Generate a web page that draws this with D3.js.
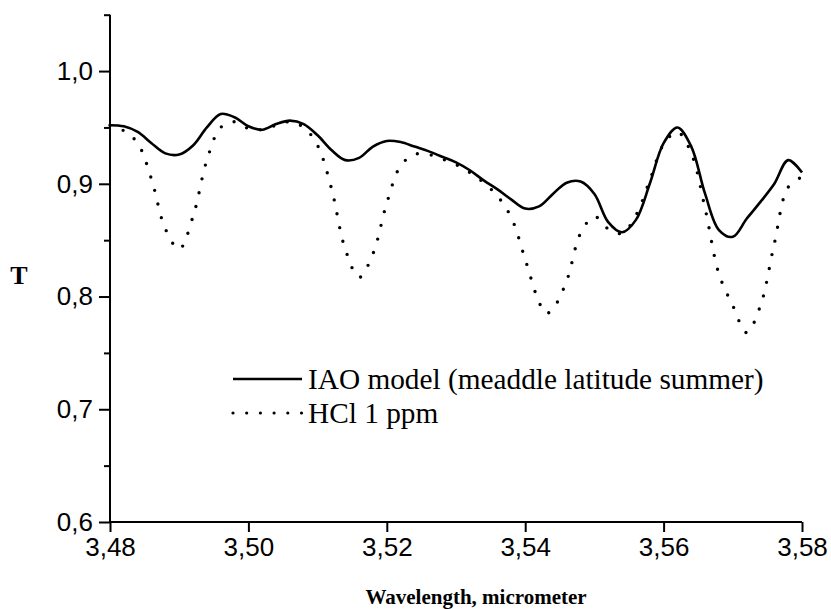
<!DOCTYPE html>
<html>
<head>
<meta charset="utf-8">
<script src="https://cdn.jsdelivr.net/npm/d3@7/dist/d3.min.js"></script>
<style>
  html, body { margin: 0; padding: 0; background: #fff; }
  svg { display: block; }
</style>
</head>
<body>
<svg id="chart" width="831" height="609"></svg>
<script>
// Transmission spectrum, 3.48–3.58 µm
const iaoWavelength = [3.480, 3.482, 3.484, 3.486, 3.488, 3.490, 3.492, 3.494, 3.496, 3.498,
  3.500, 3.502, 3.504, 3.506, 3.508, 3.510, 3.512, 3.514, 3.516, 3.518,
  3.520, 3.522, 3.524, 3.526, 3.528, 3.530, 3.532, 3.534, 3.536, 3.538,
  3.540, 3.542, 3.544, 3.546, 3.548, 3.550, 3.552, 3.554, 3.556, 3.558,
  3.560, 3.562, 3.564, 3.566, 3.568, 3.570, 3.572, 3.574, 3.576, 3.578, 3.580];
const iaoT = [0.952, 0.951, 0.946, 0.936, 0.927, 0.926, 0.934, 0.950, 0.962, 0.959,
  0.951, 0.948, 0.953, 0.956, 0.953, 0.943, 0.930, 0.921, 0.923, 0.933,
  0.938, 0.937, 0.933, 0.929, 0.924, 0.919, 0.912, 0.903, 0.895, 0.886,
  0.878, 0.880, 0.891, 0.901, 0.902, 0.891, 0.866, 0.857, 0.868, 0.900,
  0.936, 0.950, 0.933, 0.891, 0.859, 0.853, 0.869, 0.884, 0.900, 0.921, 0.910];

const hclWavelength = [3.480, 3.482, 3.484, 3.486, 3.488, 3.490, 3.492, 3.494, 3.496, 3.498,
  3.500, 3.502, 3.504, 3.506, 3.508, 3.510, 3.512, 3.514, 3.516, 3.518,
  3.520, 3.522, 3.524, 3.526, 3.528, 3.530, 3.532, 3.534, 3.536, 3.538,
  3.540, 3.542, 3.543, 3.544, 3.546, 3.548, 3.550, 3.552, 3.554, 3.556, 3.558,
  3.560, 3.562, 3.564, 3.566, 3.568, 3.570, 3.572, 3.574, 3.576, 3.578, 3.580];
const hclT = [0.952, 0.947, 0.936, 0.904, 0.860, 0.842, 0.871, 0.921, 0.950, 0.955,
  0.949, 0.948, 0.952, 0.955, 0.950, 0.934, 0.896, 0.842, 0.817, 0.838,
  0.883, 0.916, 0.926, 0.926, 0.922, 0.917, 0.910, 0.901, 0.889, 0.870,
  0.833, 0.795, 0.785, 0.789, 0.814, 0.856, 0.871, 0.860, 0.856, 0.872, 0.903,
  0.935, 0.946, 0.927, 0.878, 0.820, 0.792, 0.768, 0.792, 0.847, 0.897, 0.906];

const xTicks = [3.48, 3.50, 3.52, 3.54, 3.56, 3.58];
const yTicks = [0.6, 0.7, 0.8, 0.9, 1.0];
const yMinorTicks = [0.65, 0.75, 0.85, 0.95, 1.05];

const seriesNames = ["IAO model (meaddle latitude summer)", "HCl 1 ppm"];
const xTitle = "Wavelength, micrometer";
const yTitle = "T";

const svg = d3.select("#chart");
const plot = { left: 110, right: 802, top: 14.7, bottom: 522 };

const x = d3.scaleLinear().domain([3.48, 3.58]).range([plot.left, plot.right]);
const y = d3.scaleLinear().domain([0.6, 1.05]).range([plot.bottom, plot.top]);

const locale = d3.formatLocale({ decimal: ",", thousands: " ", grouping: [3], currency: ["", ""] });
const fx = locale.format(".2f");
const fy = locale.format(".1f");

const tickFont = "'Liberation Sans', Arial, sans-serif";
const serifFont = "'Liberation Serif', 'Times New Roman', serif";

// Axes
const xAxis = d3.axisBottom(x).tickValues(xTicks).tickFormat(fx).tickSize(10).tickPadding(6);
const gx = svg.append("g").attr("transform", `translate(0,${plot.bottom})`).call(xAxis);
gx.select(".domain").attr("d", `M${plot.left},0H${plot.right}`);

const yAxis = d3.axisLeft(y).tickValues(yTicks).tickFormat(fy).tickSize(11).tickPadding(6);
const gy = svg.append("g").attr("transform", `translate(${plot.left},0)`).call(yAxis);
gy.select(".domain").attr("d", `M0,${plot.top}V${plot.bottom}`);

const yMinor = d3.axisLeft(y).tickValues(yMinorTicks).tickFormat("").tickSize(6);
const gym = svg.append("g").attr("transform", `translate(${plot.left},0)`).call(yMinor);
gym.select(".domain").remove();

[gx, gy, gym].forEach(g => {
  g.selectAll(".domain, line").attr("stroke", "#000").attr("stroke-width", 2);
  g.selectAll("text").attr("font-family", tickFont).attr("font-size", 26).attr("fill", "#000");
});

// Curves
const line = d3.line()
  .x(d => x(d[0]))
  .y(d => y(d[1]))
  .curve(d3.curveCatmullRom.alpha(0.5));

const iaoData = iaoWavelength.map((w, i) => [w, iaoT[i]]);
const hclData = hclWavelength.map((w, i) => [w, hclT[i]]);

svg.append("path")
  .datum(hclData)
  .attr("d", line)
  .attr("fill", "none")
  .attr("stroke", "#000")
  .attr("stroke-width", 3.4)
  .attr("stroke-linecap", "round")
  .attr("stroke-dasharray", "0 14");

svg.append("path")
  .datum(iaoData)
  .attr("d", line)
  .attr("fill", "none")
  .attr("stroke", "#000")
  .attr("stroke-width", 2.6)
  .attr("stroke-linejoin", "round");

// Legend
const legend = svg.append("g");
legend.append("line")
  .attr("x1", 233).attr("x2", 302).attr("y1", 379).attr("y2", 379)
  .attr("stroke", "#000").attr("stroke-width", 2.6);
legend.append("line")
  .attr("x1", 233).attr("x2", 302).attr("y1", 413).attr("y2", 413)
  .attr("stroke", "#000").attr("stroke-width", 3.2)
  .attr("stroke-linecap", "round").attr("stroke-dasharray", "0 13.7");
legend.selectAll("text.series")
  .data(seriesNames)
  .join("text")
  .attr("class", "series")
  .attr("x", 308)
  .attr("y", (d, i) => 389 + i * 34)
  .attr("font-family", serifFont)
  .attr("font-size", 29.3)
  .attr("fill", "#000")
  .text(d => d);

// Axis titles
svg.append("text")
  .attr("x", 476).attr("y", 604)
  .attr("text-anchor", "middle")
  .attr("font-family", serifFont)
  .attr("font-weight", "bold")
  .attr("font-size", 21)
  .attr("fill", "#000")
  .text(xTitle);

svg.append("text")
  .attr("x", 19).attr("y", 284)
  .attr("text-anchor", "middle")
  .attr("font-family", serifFont)
  .attr("font-weight", "bold")
  .attr("font-size", 26)
  .attr("fill", "#000")
  .text(yTitle);
</script>
</body>
</html>
